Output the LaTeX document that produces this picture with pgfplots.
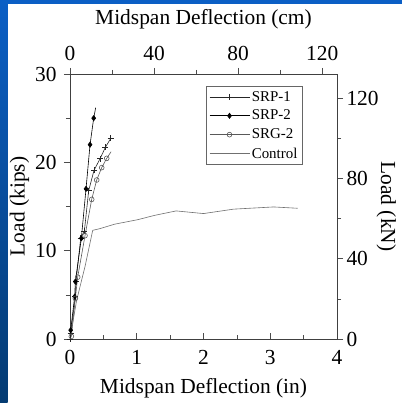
\documentclass[border=0pt]{standalone}
\usepackage{fontspec}
\setmainfont{Liberation Serif}
\usepackage{pgfplots}
\pgfplotsset{compat=1.18}
\definecolor{slideblue}{HTML}{0B5FC5}
\definecolor{slidedark}{HTML}{053B72}
\definecolor{lgray}{HTML}{707070}

\pgfplotsset{
  common/.style={
    scale only axis, width=267bp, height=265bp,
    at={(70bp,64bp)}, anchor=south west,
    tick align=outside,
    major tick length=6bp, minor tick length=4bp,
    tick style={black!70, line width=0.6pt},
    axis line style={black!75, line width=0.7pt},
    /pgf/number format/assume math mode=true,
    tick label style={font=\fontsize{21.5}{25}\selectfont},
    label style={font=\fontsize{21.5}{25}\selectfont},
  },
}

\begin{document}
\begin{tikzpicture}[x=1bp,y=1bp]
\useasboundingbox (0,0) rectangle (402,403);
\fill[white] (0,0) rectangle (402,403);
\shade[top color=slideblue, bottom color=slidedark] (0,0) rectangle (7.5,403);
\fill[slideblue] (0,398.5) rectangle (402,403);

% second scale: cm on top, kN on right
\begin{axis}[common,
    xmin=0, xmax=127, ymin=0, ymax=132,
    axis x line*=top, axis y line*=right,
    xtick={0,40,80,120}, ytick={0,40,80,120},
    minor tick num=1,
    xticklabel style={yshift=4bp},
    xlabel={Midspan Deflection (cm)},
    xlabel style={yshift=10bp},
    ylabel={Load (kN)},
    ylabel style={rotate=180, yshift=-9bp},
]
\end{axis}

\begin{axis}[common,
    xmin=0, xmax=4, ymin=0, ymax=30,
    xtick pos=bottom, ytick pos=left,
    xtick={0,1,2,3,4}, ytick={0,10,20,30},
    minor tick num=1,
    major x tick style={yshift=6bp}, minor x tick style={yshift=4bp},
    xticklabel style={yshift=-2bp},
    yticklabel style={xshift=-4bp},
    xlabel={Midspan Deflection (in)},
    xlabel style={yshift=-7bp},
    ylabel={Load (kips)},
    ylabel style={yshift=-1bp},
    legend style={at={(0.509,0.955)}, anchor=north west,
      draw=black!60, line width=0.6pt,
      font=\fontsize{15}{18}\selectfont, row sep=3.5bp,
      inner xsep=3bp, inner ysep=3bp},
    legend cell align=left,
    legend image code/.code={
      \draw[mark indices={2}] plot coordinates {(0bp,0bp) (20bp,0bp) (40bp,0bp)};
    },
]
\addplot[black!85, line width=0.6pt, mark=+, mark size=3bp, mark options={solid}]
coordinates {
(0,0) (0.01,0.6) (0.08,4.8) (0.09,6.5) (0.16,11.4) (0.215,12.2)
(0.28,16.8) (0.36,19.1) (0.45,20.4) (0.53,21.7) (0.61,22.7)
};
\addlegendentry{SRP-1}
\addplot[black, line width=0.6pt, mark=diamond*, mark size=2.6bp,
  mark indices={2,3,4,5,6,7,8}]
coordinates {
(0,0) (0.01,1.0) (0.07,4.8) (0.08,6.5) (0.17,11.4) (0.24,17.0)
(0.30,22.0) (0.355,25.0) (0.385,26.2)
};
\addlegendentry{SRP-2}
\addplot[black!65, line width=0.6pt, mark=o, mark size=2.4bp,
  mark indices={2,3,4,5,6,7,8,9}]
coordinates {
(0,0) (0.02,0.3) (0.08,4.6) (0.115,7.0) (0.225,11.7) (0.325,15.8)
(0.40,18.0) (0.475,19.4) (0.55,20.45) (0.615,21.2)
};
\addlegendentry{SRG-2}
\addplot[lgray, line width=0.6pt, no marks]
coordinates {
(0,0) (0.1,4.4) (0.225,8.2) (0.34,12.3) (0.45,12.5) (0.67,13.0)
(1.01,13.5) (1.27,14.0) (1.59,14.5) (2.0,14.2) (2.45,14.7)
(3.05,14.95) (3.41,14.8)
};
\addlegendentry{Control}
\end{axis}
\end{tikzpicture}
\end{document}
